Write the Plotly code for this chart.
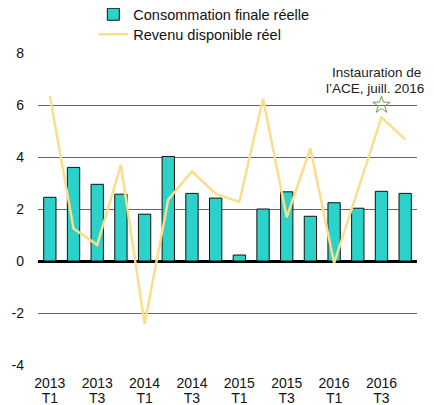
import plotly.graph_objects as go

# quarters 2013 T1 .. 2016 T4
quarters = ['2013 T1', '2013 T2', '2013 T3', '2013 T4',
            '2014 T1', '2014 T2', '2014 T3', '2014 T4',
            '2015 T1', '2015 T2', '2015 T3', '2015 T4',
            '2016 T1', '2016 T2', '2016 T3', '2016 T4']
consommation = [2.45, 3.6, 2.95, 2.57, 1.8, 4.02, 2.6, 2.42,
                0.23, 2.0, 2.66, 1.72, 2.24, 2.03, 2.68, 2.6]
revenu = [6.35, 1.25, 0.62, 3.7, -2.42, 2.36, 3.45, 2.58,
          2.27, 6.24, 1.68, 4.33, -0.08, 2.7, 5.52, 4.68]
tick_vals = ['2013 T1', '2013 T3', '2014 T1', '2014 T3',
             '2015 T1', '2015 T3', '2016 T1', '2016 T3']
year_text = [q.split(' ')[0] for q in tick_vals]
quarter_text = [q.split(' ')[1] for q in tick_vals]
y_ticks = [-4, -2, 0, 2, 4, 6, 8]
y_text = ['-4', '-2', '0', '2', '4', '6', '8']
star_x = ['2016 T3']
star_y = [6.0]

fig = go.Figure()
fig.add_trace(go.Bar(x=quarters, y=consommation, name='Consommation finale réelle',
                     marker=dict(color='#2ad2c9', line=dict(color='#111111', width=1)),
                     legend='legend'))
fig.add_trace(go.Scatter(x=quarters, y=revenu, name='Revenu disponible réel', mode='lines',
                         line=dict(color='#fbdd8c', width=2.5), legend='legend2'))
fig.add_trace(go.Scatter(x=star_x, y=star_y, mode='markers', showlegend=False, xaxis='x2',
                         marker=dict(symbol='star-open', size=13, color='#6f9f40',
                                     line=dict(width=1, color='#6f9f40'))))

# note above the star, two lines set close together
fig.add_annotation(x='2016 T3', y=6.0, text="Instauration de", showarrow=False,
                   yanchor='middle', yshift=33, xshift=-5,
                   font=dict(size=13.5, color='#222222'))
fig.add_annotation(x='2016 T3', y=6.0, text="l’ACE, juill. 2016", showarrow=False,
                   yanchor='middle', yshift=17, xshift=-6,
                   font=dict(size=13.5, color='#222222'))

# the page body has an 8px margin, so the figure is sized to fit the window
fig.update_layout(
    width=426, height=397,
    margin=dict(l=30, r=17, t=45, b=40, autoexpand=False),
    paper_bgcolor='white', plot_bgcolor='white',
    font=dict(family='Liberation Sans, Arial, sans-serif', size=14, color='#111111'),
    bargap=0.48,
    showlegend=True,
    legend=dict(x=0.146, y=1.124, xanchor='left', yanchor='middle', bgcolor='rgba(0,0,0,0)',
                font=dict(size=14.5), itemwidth=30),
    legend2=dict(x=0.146, y=1.06, xanchor='left', yanchor='middle', bgcolor='rgba(0,0,0,0)',
                 font=dict(size=14.5), itemwidth=30),
)
fig.update_layout(
    xaxis=dict(type='category', categoryorder='array', categoryarray=quarters,
               range=[-0.5, len(quarters) - 0.5],
               tickmode='array', tickvals=tick_vals, ticktext=year_text,
               showgrid=False, showline=False, zeroline=False, ticks='', tickangle=0,
               ticklabelstandoff=8, automargin=False),
    xaxis2=dict(type='category', categoryorder='array', categoryarray=quarters,
                range=[-0.5, len(quarters) - 0.5], overlaying='x', side='bottom',
                tickmode='array', tickvals=tick_vals, ticktext=quarter_text,
                showgrid=False, showline=False, zeroline=False, ticks='', tickangle=0,
                ticklabelstandoff=23, automargin=False),
)
fig.update_yaxes(range=[-4, 8], tickmode='array', tickvals=y_ticks, ticktext=y_text,
                 showgrid=True, gridcolor='#666666', gridwidth=1,
                 zeroline=True, zerolinecolor='#000000', zerolinewidth=3,
                 ticks='', ticklabelstandoff=13, automargin=False)

fig.write_html("out.html")
